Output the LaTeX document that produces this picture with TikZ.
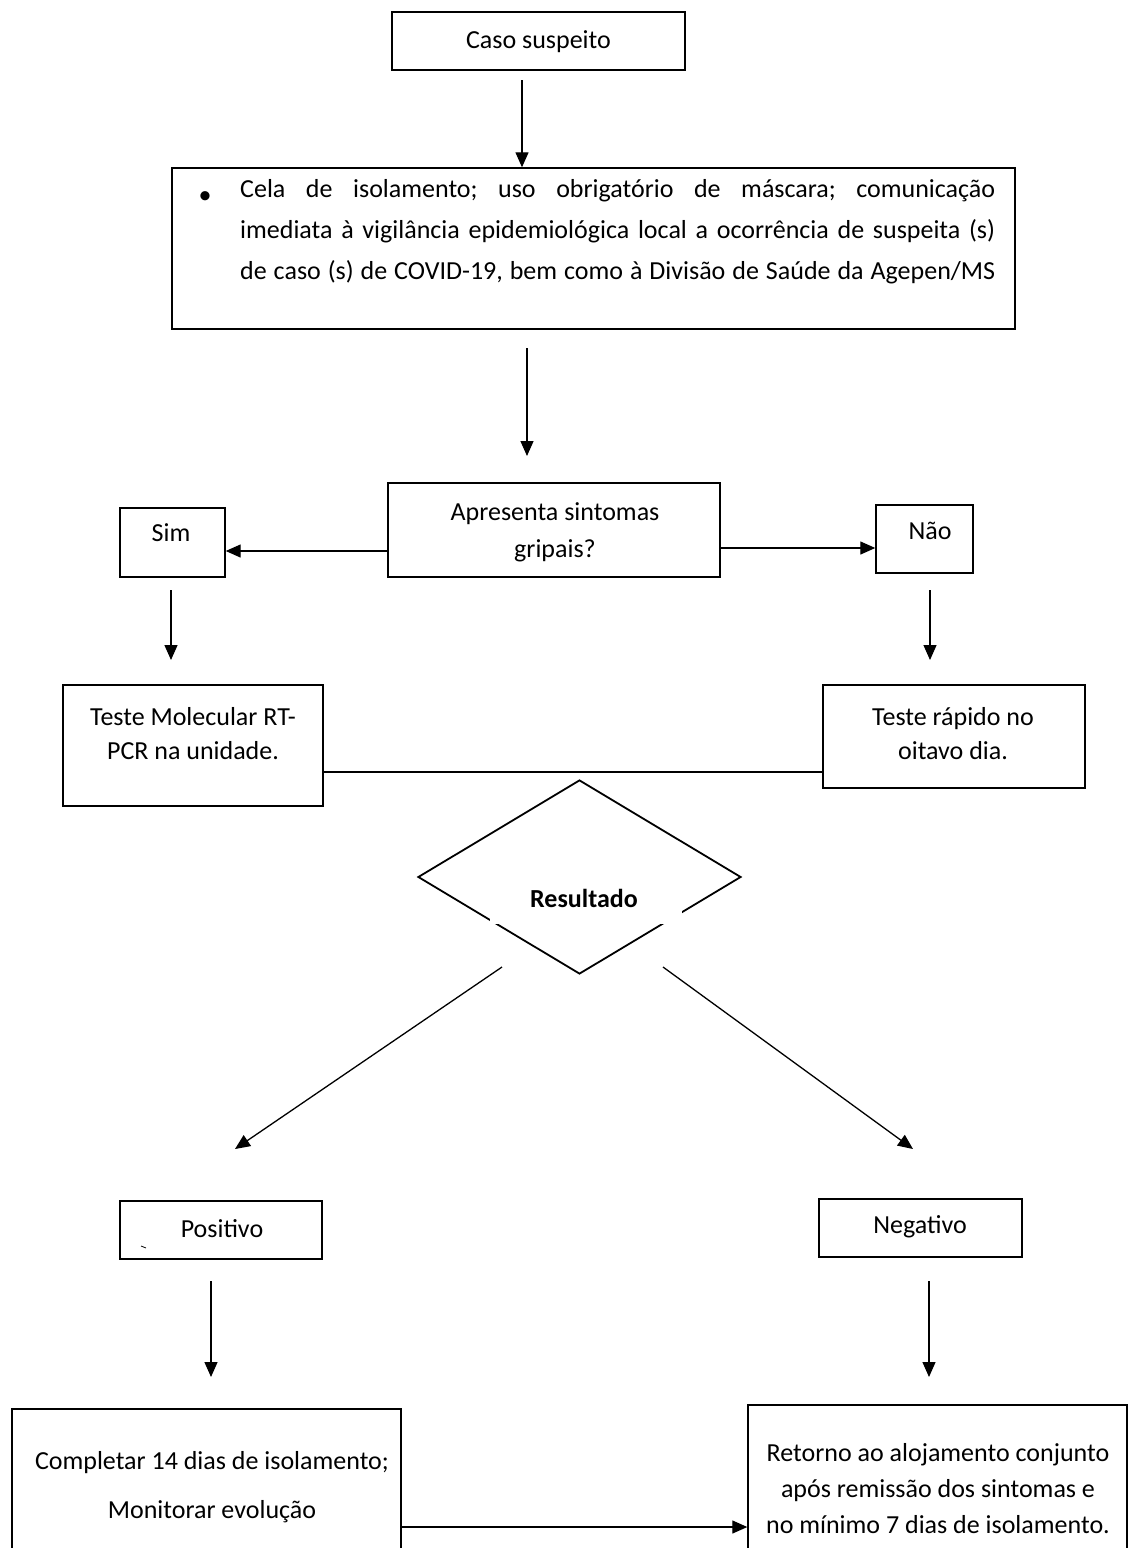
\documentclass[tikz,border=0pt]{standalone}
\usepackage{fontspec}
\setmainfont{Carlito}
\usetikzlibrary{shapes.geometric,arrows.meta}
\begin{document}
\frenchspacing
\begin{tikzpicture}[x=1pt,y=-1pt,
  box/.style={draw, line width=1.4pt, inner sep=0pt, rectangle},
  txt/.style={inner sep=0pt, font=\fontsize{26}{36}\selectfont, align=center},
  arr/.style={line width=1.3pt, -{Triangle[length=15pt,width=13pt]}},
  conn/.style={line width=1.3pt}
]
\useasboundingbox (0,0) rectangle (1132,1548);
\clip (0,0) rectangle (1132,1548);

% boxes
\node[box, minimum width=293pt, minimum height=58pt] (caso) at (538.5,41) {};
\node[box, minimum width=843pt, minimum height=161pt] (cela) at (593.5,248.5) {};
\node[box, minimum width=332pt, minimum height=94pt] (apres) at (554,530) {};
\node[box, minimum width=105pt, minimum height=69pt] (sim) at (172.5,542.5) {};
\node[box, minimum width=97pt, minimum height=68pt] (nao) at (924.5,539) {};
\node[box, minimum width=260pt, minimum height=121pt] (mol) at (193,745.5) {};
\node[box, minimum width=262pt, minimum height=103pt] (rap) at (954,736.5) {};
\node[box, minimum width=202pt, minimum height=58pt] (pos) at (221,1230) {};
\node[box, minimum width=203pt, minimum height=58pt] (neg) at (920.5,1228) {};
\node[box, minimum width=389pt, minimum height=151pt] (comp) at (206.5,1484.5) {};
\node[box, minimum width=379pt, minimum height=155pt] (ret) at (937.5,1482.5) {};

% decision diamond
\node[draw, shape=diamond, line width=1.8pt, inner sep=0pt, minimum width=323pt, minimum height=194pt] (res) at (579.5,877) {};
\fill[white] (490,872) rectangle (682,924);

% texts
\node[txt] (tcaso) at (538.5,42) {Caso suspeito};
\node[txt] (tbul) at (205,198) {\textbullet};
\node[inner sep=0pt, anchor=north west] (tcela) at (240,179) {\parbox{755pt}{\fontsize{26}{41}\selectfont
  \hbox to 755pt{Cela de isolamento; uso obrigatório de máscara; comunicação}
  \hbox to 755pt{imediata à vigilância epidemiológica local a ocorrência de suspeita (s)}
  \hbox to 755pt{de caso (s) de COVID-19, bem como à Divisão de Saúde da Agepen/MS}}};
\node[txt, font=\fontsize{26}{37}\selectfont] (tapres) at (555,532) {Apresenta sintomas\\gripais?};
\node[txt] (tsim) at (171,533) {Sim};
\node[txt] (tnao) at (930,531) {Não};
\node[txt, font=\fontsize{26}{34}\selectfont] (tmol) at (193,734) {Teste Molecular RT-\\PCR na unidade.};
\node[txt, font=\fontsize{26}{34}\selectfont] (trap) at (953,734) {Teste rápido no\\oitavo dia.};
\node[txt, font=\bfseries\fontsize{26}{30}\selectfont] (tres) at (584,898) {Resultado};
\node[txt] (tpos) at (222,1229) {Positivo};
\node[txt] (tneg) at (920,1227) {Negativo};
\node[txt, font=\fontsize{26}{49}\selectfont] (tcomp) at (212,1487) {Completar 14 dias de isolamento;\\Monitorar evolução};
\node[txt, font=\fontsize{26}{36}\selectfont] (tret) at (938,1489) {Retorno ao alojamento conjunto\\após remissão dos sintomas e\\no mínimo 7 dias de isolamento.};
\draw[line width=0.8pt] (141,1246) -- (146,1248);

% connectors
\coordinate (a1) at (522,80);
\draw[arr] (a1) -- (a1 |- cela.north);
\coordinate (a2s) at (527,348); \coordinate (a2e) at (527,456);
\draw[arr] (a2s) -- (a2e);
\coordinate (a3) at (388,551);
\draw[arr] (a3) -- (a3 -| sim.east);
\coordinate (a4) at (720,548);
\draw[arr] (a4) -- (a4 -| nao.west);
\coordinate (a5s) at (171,590); \coordinate (a5e) at (171,660);
\draw[arr] (a5s) -- (a5e);
\coordinate (a6s) at (930,590); \coordinate (a6e) at (930,660);
\draw[arr] (a6s) -- (a6e);
\coordinate (l1) at (323,772);
\draw[conn] (l1) -- (l1 -| rap.west);
\coordinate (d1s) at (502,967); \coordinate (d1e) at (235,1149);
\draw[arr] (d1s) -- (d1e);
\coordinate (d2s) at (663,967); \coordinate (d2e) at (913,1149);
\draw[arr] (d2s) -- (d2e);
\coordinate (p1s) at (211,1281); \coordinate (p1e) at (211,1377);
\draw[arr] (p1s) -- (p1e);
\coordinate (n1s) at (929,1281); \coordinate (n1e) at (929,1377);
\draw[arr] (n1s) -- (n1e);
\coordinate (b1) at (401,1527);
\draw[arr] (b1) -- (b1 -| ret.west);
\end{tikzpicture}
\end{document}
